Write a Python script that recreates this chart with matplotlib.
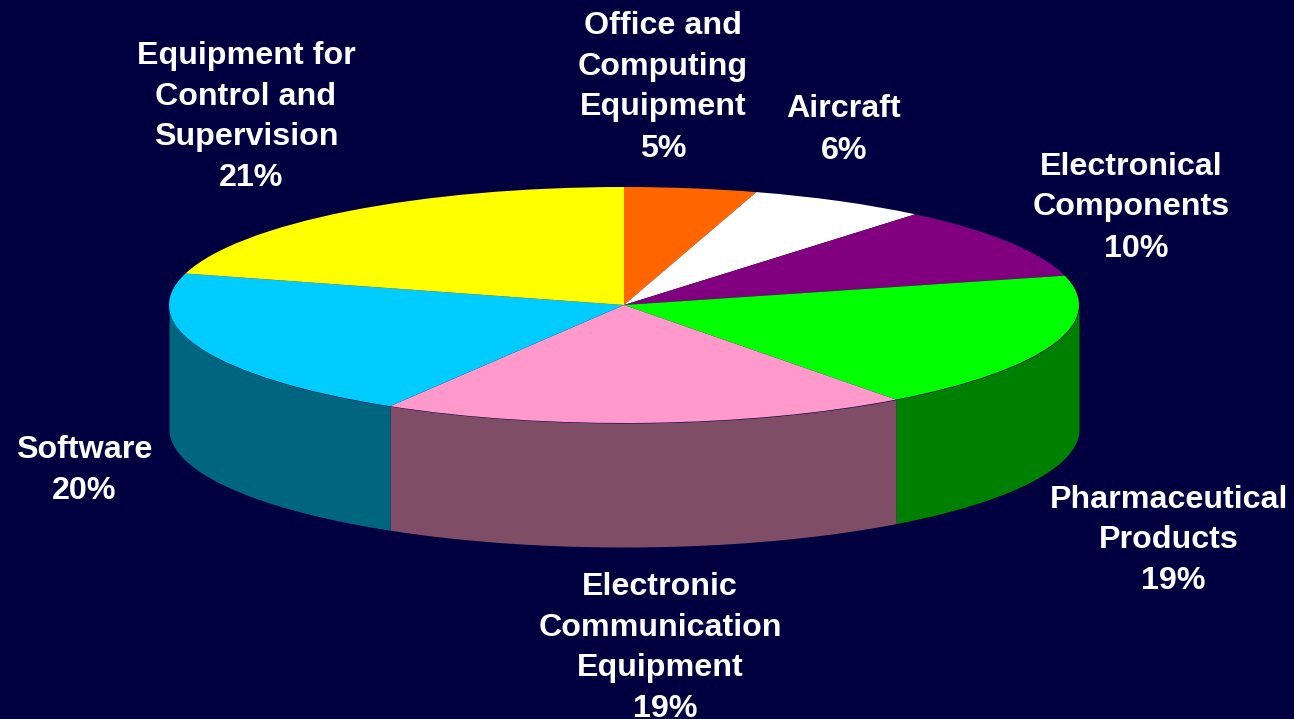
import numpy as np
import matplotlib
matplotlib.use("Agg")
import matplotlib.pyplot as plt

# Data
categories = ["Office and\nComputing\nEquipment", "Aircraft", "Electronical\nComponents",
              "Pharmaceutical\nProducts", "Electronic\nCommunication\nEquipment",
              "Software", "Equipment for\nControl and\nSupervision"]
percent_labels = [5, 6, 10, 19, 19, 20, 21]          # as printed
slice_sizes = [4.7, 6.35, 9.95, 18.8, 18.8, 20.7, 20.7]  # as drawn (estimated from slice edges)
top_colors = ["#FF6600", "#FFFFFF", "#800080", "#00FF00", "#FF99CC", "#00CCFF", "#FFFF00"]
side_colors = ["#803300", "#808080", "#400040", "#008000", "#804D66", "#006680", "#808000"]
# Position (centre x, baseline y) in pixels of each name block's last line and percent line
name_pos_px = [(663, 115), (844, 117), (1131, 215), (1169, 548), (660, 676), (84, 458), (246, 145)]
pct_pos_px = [(663, 157), (844, 159), (1136, 257), (1173, 589), (665, 717), (84, 499), (251, 186)]

BG = "#000040"
W, H = 1294, 719
CX, CY, RX, RY, DEPTH = 624, 305, 455, 118, 124

plt.rcParams["font.family"] = ["Liberation Sans", "DejaVu Sans"]
fig = plt.figure(figsize=(W / 100, H / 100), dpi=100, facecolor=BG)
ax = fig.add_axes([0, 0, 1, 1], facecolor=BG)

# The disc's top face is a unit circle; the axes limits squash it to the ellipse
ax.pie(slice_sizes, colors=top_colors, startangle=90, counterclock=False, radius=1,
       frame=True, wedgeprops={"linewidth": 0, "zorder": 3})
ax.set_aspect("auto")
ax.set_xlim(-CX / RX, (W - CX) / RX)
ax.set_ylim(-(H - CY) / RY, CY / RY)
ax.axis("off")

# Side walls: only the front half of the rim (below the centre line) shows
depth = DEPTH / RY
edges = 90 - 360 * np.concatenate(([0], np.cumsum(slice_sizes))) / np.sum(slice_sizes)
for start, end, col in zip(edges[:-1], edges[1:], side_colors):
    s, e = start % 360, end % 360
    lo, hi = (e, s) if e < s else (e, s + 360)
    lo_v, hi_v = max(lo, 180), min(hi, 360)
    if hi_v <= lo_v:
        continue
    t = np.radians(np.linspace(lo_v, hi_v, 200))
    ax.fill_between(np.cos(t), np.sin(t), np.sin(t) - depth, color=col, linewidth=0, zorder=2)

# Labels
to_data = ax.transData.inverted()
style = dict(color="white", fontsize=23.2, fontweight="bold", ha="center", va="baseline", zorder=5)
for name, val, (nx, ny), (vx, vy) in zip(categories, percent_labels, name_pos_px, pct_pos_px):
    x, y = to_data.transform((nx, H - ny))
    ax.text(x, y, name, linespacing=1.45, **style)
    x, y = to_data.transform((vx, H - vy))
    ax.text(x, y, f"{val}%", **style)

fig.savefig("out.png", dpi=100, facecolor=BG)
